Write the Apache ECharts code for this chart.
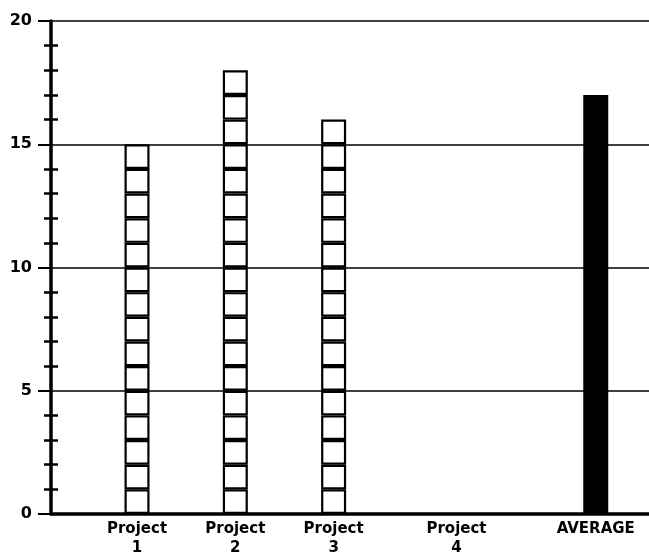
<!DOCTYPE html>
<html>
<head>
<meta charset="utf-8">
<script src="https://cdn.jsdelivr.net/npm/echarts@6/dist/echarts.min.js"></script>
<style>
html,body{margin:0;padding:0;background:#fff;}
#chart{width:649px;height:559px;}
</style>
</head>
<body>
<div id="chart"></div>
<script>
// ---- data ----
const categories = ['Project\n1', 'Project\n2', 'Project\n3', 'Project\n4', 'AVERAGE'];
const values = [15, 18, 16, 0, 17];
const yTicks = [0, 5, 10, 15, 20];

// ---- layout (slot positions on a fine category axis) ----
const slotIndex = [10, 22, 34, 49, 66];
const slotCount = 73;
const averageIndex = 4;

const axisCats = [];
for (let s = 0; s < slotCount; s++) axisCats.push('');
slotIndex.forEach((s, i) => { axisCats[s] = categories[i]; });

const maxV = Math.max.apply(null, values);
const series = [];
for (let k = 0; k < maxV; k++) {
  const data = [];
  for (let s = 0; s < slotCount; s++) data.push('-');
  values.forEach((v, i) => {
    if (i !== averageIndex && v > k) data[slotIndex[i]] = 1;
  });
  series.push({
    type: 'bar',
    stack: 'units',
    barWidth: 25,
    barGap: '-100%',
    data: data,
    silent: true,
    itemStyle: { color: '#fff', borderColor: '#000', borderWidth: 2.2 }
  });
}
const avgData = [];
for (let s = 0; s < slotCount; s++) avgData.push('-');
avgData[slotIndex[averageIndex]] = values[averageIndex];
series.push({
  type: 'bar',
  yAxisIndex: 1,
  barWidth: 25,
  barGap: '-100%',
  data: avgData,
  silent: true,
  itemStyle: { color: '#000', borderColor: '#000', borderWidth: 4 }
});

const chart = echarts.init(document.getElementById('chart'), null, { renderer: 'canvas' });
chart.setOption({
  animation: false,
  backgroundColor: '#fff',
  grid: { left: 51, right: -5, top: 21, bottom: 45, containLabel: false },
  xAxis: {
    type: 'category',
    data: axisCats,
    boundaryGap: true,
    axisLine: { show: true, lineStyle: { color: '#000', width: 3.5 } },
    axisTick: { show: false },
    axisLabel: {
      interval: 0,
      margin: 6,
      color: '#000',
      fontFamily: 'DejaVu Sans',
      fontWeight: 'bold',
      fontSize: 15,
      lineHeight: 19
    },
    splitLine: { show: false }
  },
  yAxis: [
    {
      type: 'value',
      min: yTicks[0],
      max: yTicks[yTicks.length - 1],
      interval: yTicks[1] - yTicks[0],
      axisLine: { show: true, lineStyle: { color: '#000', width: 3.5 } },
      axisTick: { show: true, inside: false, length: 13, lineStyle: { color: '#000', width: 2 } },
      minorTick: { show: true, splitNumber: 5, length: 7, lineStyle: { color: '#000', width: 2.5 } },
      axisLabel: {
        margin: 19,
        color: '#000',
        fontFamily: 'DejaVu Sans',
        fontWeight: 'bold',
        fontSize: 16,
        padding: [0, 0, 7, 0]
      },
      splitLine: { show: true, lineStyle: { color: '#000', width: 1.5 } }
    },
    {
      type: 'value',
      position: 'left',
      offset: -7,
      min: yTicks[0],
      max: yTicks[yTicks.length - 1],
      interval: yTicks[1] - yTicks[0],
      axisLine: { show: false },
      axisTick: { show: false },
      minorTick: { show: true, splitNumber: 5, length: 7, lineStyle: { color: '#000', width: 2.5 } },
      axisLabel: { show: false },
      splitLine: { show: false }
    }
  ],
  series: series
});
</script>
</body>
</html>
